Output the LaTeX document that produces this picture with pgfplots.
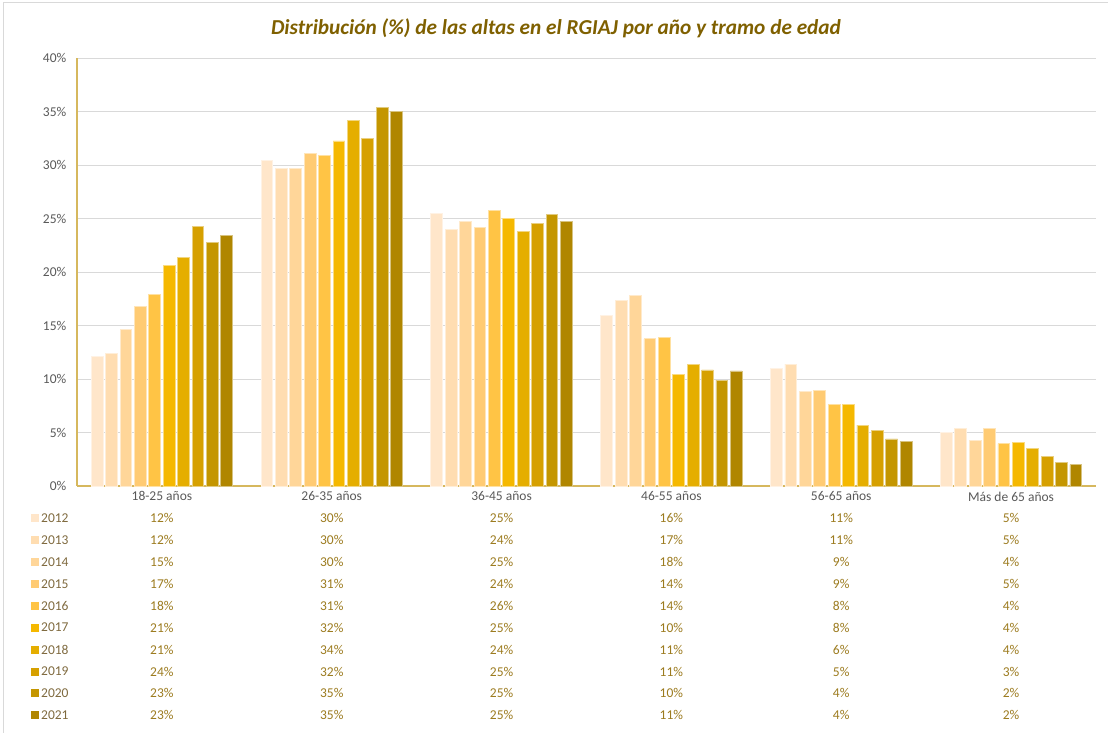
\documentclass[border=0pt]{standalone}
\usepackage{fontspec}
\setmainfont{Carlito}
\usepackage{pgfplots}
\usepackage{pgfplotstable}
\pgfplotsset{compat=1.18}
\definecolor{c2012}{HTML}{FFE6CA}
\definecolor{c2013}{HTML}{FFDDB1}
\definecolor{c2014}{HTML}{FFD699}
\definecolor{c2015}{HTML}{FFCB73}
\definecolor{c2016}{HTML}{FFC445}
\definecolor{c2017}{HTML}{F5B800}
\definecolor{c2018}{HTML}{E5AE00}
\definecolor{c2019}{HTML}{D6A000}
\definecolor{c2020}{HTML}{C49600}
\definecolor{c2021}{HTML}{B08600}
\definecolor{gridc}{HTML}{D9D9D9}
\definecolor{axisc}{HTML}{D6B85E}
\definecolor{labc}{HTML}{595959}
\definecolor{titlec}{HTML}{7F6000}
\definecolor{valc}{HTML}{9C7B1F}
\definecolor{yearc}{HTML}{7F6A3F}
\pgfplotstableread{
x y2012 y2013 y2014 y2015 y2016 y2017 y2018 y2019 y2020 y2021
0 12.07 12.35 14.6 16.78 17.9 20.6 21.4 24.25 22.8 23.45
1 30.45 29.7 29.7 31.1 30.9 32.25 34.15 32.45 35.35 35.0
2 25.45 23.95 24.7 24.15 25.73 25.0 23.78 24.55 25.35 24.7
3 15.9 17.3 17.8 13.75 13.85 10.45 11.4 10.85 9.9 10.75
4 10.95 11.4 8.85 8.95 7.6 7.6 5.7 5.2 4.4 4.15
5 5.0 5.37 4.25 5.37 3.95 4.05 3.55 2.73 2.17 2.0
}\datatable
\begin{document}
\fontsize{13.5}{16}\selectfont
\begin{tikzpicture}[x=1pt,y=1pt]
\useasboundingbox (0,0) rectangle (1108,733);
\draw[gridc, line width=1pt] (3,0) -- (3,730) -- (1108,730);
\node[font=\fontsize{21.3}{25}\selectfont\bfseries\itshape, text=titlec] at (556,705) {Distribución (\%) de las altas en el RGIAJ por año y tramo de edad};
\begin{axis}[at={(77pt,247pt)}, anchor=south west, scale only axis,
  width=1019pt, height=428pt,
  ybar=2.6pt, bar width=11.8pt,
  xmin=-0.5, xmax=5.5, ymin=0, ymax=40,
  ytick={0,5,...,40}, yticklabel={\pgfmathprintnumber{\tick}\%},
  xtick={0,...,5},
  xticklabels={18-25 años,26-35 años,36-45 años,46-55 años,56-65 años,Más de 65 años},
  axis x line*=bottom, axis y line*=left,
  axis line style={axisc, line width=1.2pt, -},
  major tick length=0pt,
  ymajorgrids, grid style={gridc, line width=0.8pt},
  tick label style={text=labc, font=\fontsize{13.5}{16}\selectfont},
  yticklabel style={xshift=-6pt},
  xticklabel style={yshift=-1pt},
  /pgf/number format/assume math mode=true,
  every axis plot/.append style={line width=0.8pt},
  clip=false]
\addplot[fill=c2012, draw=c2012!50!white] table[x=x, y=y2012] {\datatable};
\addplot[fill=c2013, draw=c2013!50!white] table[x=x, y=y2013] {\datatable};
\addplot[fill=c2014, draw=c2014!50!white] table[x=x, y=y2014] {\datatable};
\addplot[fill=c2015, draw=c2015!50!white] table[x=x, y=y2015] {\datatable};
\addplot[fill=c2016, draw=c2016!50!white] table[x=x, y=y2016] {\datatable};
\addplot[fill=c2017, draw=c2017!50!white] table[x=x, y=y2017] {\datatable};
\addplot[fill=c2018, draw=c2018!50!white] table[x=x, y=y2018] {\datatable};
\addplot[fill=c2019, draw=c2019!50!white] table[x=x, y=y2019] {\datatable};
\addplot[fill=c2020, draw=c2020!50!white] table[x=x, y=y2020] {\datatable};
\addplot[fill=c2021, draw=c2021!50!white] table[x=x, y=y2021] {\datatable};
\end{axis}
% data table
\foreach \yr/\vals [count=\i from 0] in {
 2012/{12,30,25,16,11,5},
 2013/{12,30,24,17,11,5},
 2014/{15,30,25,18,9,4},
 2015/{17,31,24,14,9,5},
 2016/{18,31,26,14,8,4},
 2017/{21,32,25,10,8,4},
 2018/{21,34,24,11,6,4},
 2019/{24,32,25,11,5,3},
 2020/{23,35,25,10,4,2},
 2021/{23,35,25,11,4,2}} {
  \pgfmathsetmacro{\ry}{733-(518+21.93*\i)}
  \fill[c\yr] (31,\ry-4) rectangle (39,\ry+4);
  \node[anchor=west, text=yearc, inner sep=0pt] at (41,\ry) {\yr};
  \foreach \v [count=\k from 0] in \vals {
    \node[text=valc, inner sep=0pt] at ({77+169.83*(\k+0.5)},\ry) {\v\%};
  }
}
\end{tikzpicture}
\end{document}
